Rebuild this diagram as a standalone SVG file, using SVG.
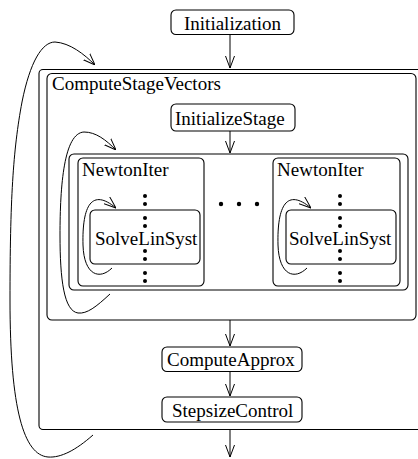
<svg xmlns="http://www.w3.org/2000/svg" width="418" height="459" viewBox="0 0 418 459">
<style>
  .box { fill: none; stroke: #000; stroke-width: 1.1; }
  .lbl { font-family: 'Liberation Serif', 'Times New Roman', serif; font-size: 19px; fill: #000; }
  .edge { fill: none; stroke: #000; stroke-width: 1; marker-end: url(#arr); }
  .dot { fill: #000; }
</style>
<defs>
  <marker id="arr" viewBox="0 0 12 10" refX="12" refY="5" markerWidth="12" markerHeight="10" markerUnits="userSpaceOnUse" orient="auto">
    <path d="M0,0.5 L12,5 L0,9.5" fill="none" stroke="#000" stroke-width="1"/>
  </marker>
</defs>
<rect width="418" height="459" fill="#fff"/>

<g id="outer">
  <rect class="box" x="39" y="69.5" width="390" height="360" rx="4"/>
</g>
<g id="Initialization">
  <rect class="box" x="171" y="10" width="123" height="24.5" rx="5"/>
  <text class="lbl" x="184" y="30">Initialization</text>
</g>
<g id="ComputeStageVectors">
  <rect class="box" x="47" y="73.5" width="369" height="246.5" rx="5"/>
  <text class="lbl" x="52" y="90">ComputeStageVectors</text>
</g>
<g id="InitializeStage">
  <rect class="box" x="171" y="104" width="124" height="27" rx="5"/>
  <text class="lbl" x="175" y="125">InitializeStage</text>
</g>
<g id="NewtonContainer">
  <rect class="box" x="69" y="154" width="339" height="136" rx="5"/>
</g>
<g id="NewtonIter1">
  <rect class="box" x="78" y="158" width="126" height="128" rx="5"/>
  <text class="lbl" x="82" y="176">NewtonIter</text>
</g>
<g id="SolveLinSyst1">
  <rect class="box" x="90" y="210" width="110" height="54" rx="5"/>
  <text class="lbl" x="95" y="245">SolveLinSyst</text>
</g>
<g id="NewtonIter2">
  <rect class="box" x="273" y="158" width="127" height="128" rx="5"/>
  <text class="lbl" x="277" y="176">NewtonIter</text>
</g>
<g id="SolveLinSyst2">
  <rect class="box" x="286" y="210" width="110" height="54" rx="5"/>
  <text class="lbl" x="289" y="245">SolveLinSyst</text>
</g>
<g id="ComputeApprox">
  <rect class="box" x="162" y="347" width="140" height="24.5" rx="5"/>
  <text class="lbl" x="167" y="366">ComputeApprox</text>
</g>
<g id="StepsizeControl">
  <rect class="box" x="162" y="397" width="140" height="25" rx="5"/>
  <text class="lbl" x="172" y="417">StepsizeControl</text>
</g>

<g id="dots">
  <circle class="dot" cx="145" cy="196" r="2"/>
  <circle class="dot" cx="145" cy="204" r="2"/>
  <circle class="dot" cx="145" cy="218" r="2"/>
  <circle class="dot" cx="145" cy="226" r="2"/>
  <circle class="dot" cx="145" cy="251" r="2"/>
  <circle class="dot" cx="145" cy="259" r="2"/>
  <circle class="dot" cx="145" cy="273" r="2"/>
  <circle class="dot" cx="145" cy="281" r="2"/>
  <circle class="dot" cx="340" cy="196" r="2"/>
  <circle class="dot" cx="340" cy="204" r="2"/>
  <circle class="dot" cx="340" cy="218" r="2"/>
  <circle class="dot" cx="340" cy="226" r="2"/>
  <circle class="dot" cx="340" cy="251" r="2"/>
  <circle class="dot" cx="340" cy="259" r="2"/>
  <circle class="dot" cx="340" cy="273" r="2"/>
  <circle class="dot" cx="340" cy="281" r="2"/>
  <circle class="dot" cx="221" cy="204" r="2.2"/>
  <circle class="dot" cx="239" cy="204" r="2.2"/>
  <circle class="dot" cx="257" cy="204" r="2.2"/>
</g>

<g id="connectors">
  <line class="edge" x1="230" y1="34.5" x2="230" y2="68"/>
  <line class="edge" x1="230" y1="131" x2="230" y2="153"/>
  <line class="edge" x1="230" y1="320" x2="230" y2="346"/>
  <line class="edge" x1="230" y1="371.5" x2="230" y2="396"/>
  <line class="edge" x1="230" y1="429.5" x2="230" y2="457"/>
  <path class="edge" d="M112,268 C100,280 84,276 83,245 C82,205 92,188 116,208"/>
  <path class="edge" d="M307,268 C295,280 279,276 278,245 C277,205 287,188 311,208"/>
  <path class="edge" d="M110,294 C96,307 87,314 78,313 C64,311 60,280 60,235 C60,185 64,133 84,132 C96,132 106,140 116,150"/>
  <path class="edge" d="M93,435 C76,450 61,458 48,457 C24,455 10,410 10,300 C10,200 13,150 22,102 C30,62 42,42 55,42 C70,43 84,54 95,65"/>
</g>
</svg>
